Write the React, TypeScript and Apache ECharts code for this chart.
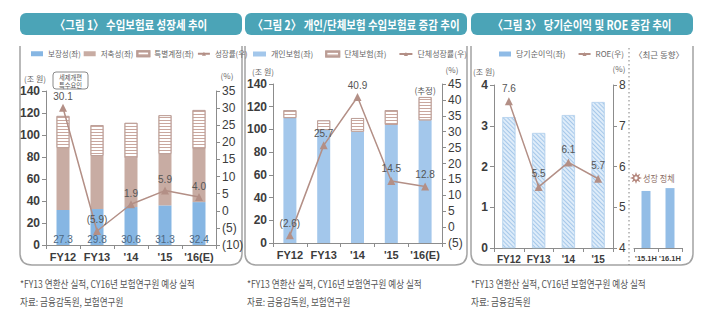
import React, { useEffect, useRef } from 'react';
import * as echarts from 'echarts';

// ---------- data ----------
const cats1 = ['FY12', 'FY13', "'14", "'15", "'16(E)"];
const prot1 = [31.8, 32.7, 34.5, 36.0, 39.0];
const prot1Labels = [27.3, 29.8, 30.6, 31.3, 32.4];
const sav1 = [56.4, 48.3, 44.5, 46.7, 48.3];
const spec1 = [29.1, 28.0, 32.0, 35.3, 35.4];
const growth1 = [30.1, -5.9, 1.9, 5.9, 4.0];

const cats2 = ['FY12', 'FY13', "'14", "'15", "'16(E)"];
const indiv2 = [110, 99.5, 98, 104, 108];
const group2 = [7, 8.5, 12, 13, 20.5];
const groupGrowth2 = [-2.6, 25.7, 40.9, 14.5, 12.8];

const cats3 = ['FY12', 'FY13', "'14", "'15"];
const netIncome3 = [3.21, 2.82, 3.26, 3.58];
const roe3 = [7.6, 5.5, 6.1, 5.7];
const recentCats = ["'15.1H", "'16.1H"];
const recentIncome = [1.4, 1.47];

const titles = [
  '〈그림 1〉 수입보험료 성장세 추이',
  '〈그림 2〉 개인/단체보험 수입보험료 증감 추이',
  '〈그림 3〉 당기순이익 및 ROE 증감 추이',
];
const footnote1 = '*FY13 연환산 실적, CY16년 보험연구원 예상 실적';
const sources = ['자료: 금융감독원, 보험연구원', '자료: 금융감독원, 보험연구원', '자료: 금융감독원'];

// ---------- styles ----------
const narrow = '"Liberation Sans Narrow", "Arial Narrow", "Liberation Sans", Arial, sans-serif';
const kr = '"Noto Sans CJK KR", "Noto Sans", sans-serif';
const axisColor = '#8c8c8c';
const labelColor = '#3c3c3c';
const lineColor = '#b38f86';
const teal = '#4ba4b7';

echarts.graphic.registerShape(
  'panelBorder',
  echarts.graphic.extendPath('M0 0 L0 207 Q0 219 12 219 L210 219 Q222 219 222 207 L222 0', {}) as any
);

const paren = (v: number) => (v < 0 ? `(${Math.abs(v)})` : `${v}`);
const paren1 = (v: number) => (v < 0 ? `(${Math.abs(v).toFixed(1)})` : v.toFixed(1));

const stripeDecal = {
  symbol: 'rect',
  symbolSize: 1,
  dashArrayX: [[1, 0]],
  dashArrayY: [1, 2],
  color: '#c9a79e',
};
const hatchDecal = {
  symbol: 'rect',
  symbolSize: 1,
  dashArrayX: [[1, 0]],
  dashArrayY: [1, 2],
  rotation: Math.PI / 4,
  color: '#a6c8ea',
};

const xAxisBase = (gridIndex: number, data: string[], fontSize = 11) => ({
  type: 'category',
  gridIndex,
  data,
  axisLine: { show: true, lineStyle: { color: axisColor } },
  axisTick: { show: true, length: 4, lineStyle: { color: axisColor } },
  axisLabel: { color: labelColor, fontWeight: 'bold', fontSize, margin: 6, interval: 0, fontFamily: narrow },
  splitLine: { show: false },
});

const yAxisBase = (
  gridIndex: number,
  position: 'left' | 'right',
  min: number,
  max: number,
  interval: number,
  bold: boolean,
  formatter?: (v: number) => string
) => ({
  type: 'value',
  gridIndex,
  position,
  min,
  max,
  interval,
  axisLine: { show: true, lineStyle: { color: axisColor } },
  axisTick: { show: true, length: 4, lineStyle: { color: axisColor } },
  splitLine: { show: false },
  axisLabel: {
    color: labelColor,
    fontSize: 12,
    fontWeight: bold ? 'bold' : 'normal',
    margin: 6,
    fontFamily: narrow,
    formatter: formatter || ((v: number) => `${v}`),
  },
});

const lineLabel = (distance: number) => ({
  show: true,
  position: 'top',
  distance,
  color: '#555',
  fontSize: 10,
  fontFamily: narrow,
  formatter: (p: any) => paren1(p.value),
});

function buildStar(cx: number, cy: number, ro: number, ri: number, n: number) {
  const pts: number[][] = [];
  for (let i = 0; i < n * 2; i++) {
    const r = i % 2 === 0 ? ro : ri;
    const a = (Math.PI * i) / n - Math.PI / 2;
    pts.push([cx + r * Math.cos(a), cy + r * Math.sin(a)]);
  }
  return pts;
}

const panelX = [20, 245, 471];
const footX = [20, 247, 471];

export default function App() {
  const ref = useRef<HTMLDivElement>(null);

  useEffect(() => {
    if (!ref.current) return;
    const chart = echarts.init(ref.current, null, { renderer: 'svg' });

    const graphic: any[] = [];
    panelX.forEach((x) => {
      graphic.push({
        type: 'panelBorder',
        x,
        y: 46,
        silent: true,
        style: { stroke: '#a3a3a3', fill: 'none', lineWidth: 1.5 },
      });
    });
    titles.forEach((t, i) => {
      const x = panelX[i];
      graphic.push({
        type: 'rect',
        shape: { x, y: 13, width: 222, height: 22, r: 6 },
        style: { fill: teal },
      });
      graphic.push({
        type: 'text',
        x: x + 111,
        y: 24.5,
        scaleX: 0.84,
        style: {
          text: t,
          fill: '#ffffff',
          fontSize: 12.5,
          fontWeight: 'bold',
          fontFamily: kr,
          align: 'center',
          verticalAlign: 'middle',
        },
      });
      graphic.push({
        type: 'text',
        x: footX[i],
        y: 284,
        scaleX: 0.86,
        style: { text: footnote1, fill: '#555', fontSize: 10, fontFamily: kr, align: 'left', verticalAlign: 'middle' },
      });
      graphic.push({
        type: 'text',
        x: footX[i],
        y: 302,
        scaleX: 0.86,
        style: { text: sources[i], fill: '#555', fontSize: 10, fontFamily: kr, align: 'left', verticalAlign: 'middle' },
      });
    });
    // unit labels
    const units = [
      { t: '(조 원)', x: 35, y: 78.5 },
      { t: '(%)', x: 227, y: 75 },
      { t: '(조 원)', x: 263, y: 71 },
      { t: '(%)', x: 452, y: 69 },
      { t: '(조 원)', x: 484, y: 71 },
      { t: '(%)', x: 619, y: 68 },
    ];
    units.forEach((u) =>
      graphic.push({
        type: 'text',
        x: u.x,
        y: u.y,
        style: { text: u.t, fill: '#666', fontSize: 8, fontFamily: kr, align: 'center', verticalAlign: 'middle' },
      })
    );
    // callout
    graphic.push({
      type: 'rect',
      shape: { x: 53, y: 72, width: 35, height: 17, r: 3 },
      style: { fill: '#fff', stroke: '#8a8a8a', lineWidth: 1 },
    });
    graphic.push({
      type: 'text',
      x: 70.5,
      y: 80.5,
      scaleX: 0.9,
      style: {
        text: '세제개편\n특수요인',
        fill: '#555',
        fontSize: 7,
        lineHeight: 8,
        fontFamily: kr,
        align: 'center',
        verticalAlign: 'middle',
      },
    });
    // panel 3 extras
    graphic.push({
      type: 'line',
      shape: { x1: 629, y1: 48, x2: 629, y2: 265 },
      style: { stroke: '#808080', lineWidth: 1, lineDash: [1.5, 2.5] },
    });
    graphic.push({
      type: 'text',
      x: 659,
      y: 54,
      style: { text: '〈최근 동향〉', fill: '#666', fontSize: 8.5, fontFamily: kr, align: 'center', verticalAlign: 'middle' },
    });
    graphic.push({
      type: 'polygon',
      shape: { points: buildStar(636, 178, 6, 3, 8) },
      style: { fill: '#b5877d' },
    });
    graphic.push({
      type: 'circle',
      shape: { cx: 636, cy: 178, r: 1.6 },
      style: { fill: '#fff' },
    });
    graphic.push({
      type: 'text',
      x: 643,
      y: 178,
      scaleX: 0.9,
      style: { text: '성장 정체', fill: '#8d6e66', fontSize: 9, fontFamily: kr, align: 'left', verticalAlign: 'middle' },
    });

    const legendText = (size: number) => ({ fontSize: size, color: '#666', fontFamily: kr });

    const option: any = {
      animation: false,
      backgroundColor: '#ffffff',
      textStyle: { fontFamily: narrow },
      grid: [
        { left: 46, top: 91, width: 170, height: 154 },
        { left: 273, top: 84, width: 169, height: 159 },
        { left: 494, top: 85, width: 119, height: 163 },
        { left: 634, top: 85, width: 48, height: 163 },
      ],
      legend: [
        {
          left: 31,
          top: 50,
          padding: 0,
          itemWidth: 12,
          itemHeight: 5,
          itemGap: 3,
          selectedMode: false,
          textStyle: legendText(7.5),
          data: [
            { name: '보장성(좌)', icon: 'rect' },
            { name: '저축성(좌)', icon: 'rect' },
            { name: '특별계정(좌)', icon: 'rect' },
            { name: '성장률(우)' },
          ],
        },
        {
          left: 253,
          top: 50,
          padding: 0,
          itemWidth: 13,
          itemHeight: 5,
          itemGap: 12,
          selectedMode: false,
          textStyle: legendText(8),
          data: [
            { name: '개인보험(좌)', icon: 'rect' },
            { name: '단체보험(좌)', icon: 'rect' },
            { name: '단체성장률(우)' },
          ],
        },
        {
          left: 499,
          top: 50,
          padding: 0,
          itemWidth: 12,
          itemHeight: 5,
          itemGap: 12,
          selectedMode: false,
          textStyle: legendText(8),
          data: [
            { name: '당기순이익(좌)', icon: 'rect', itemStyle: { color: '#8fbbe6', decal: 'none', borderWidth: 0 } },
            { name: 'ROE(우)' },
          ],
        },
      ],
      xAxis: [
        xAxisBase(0, cats1),
        xAxisBase(1, cats2),
        xAxisBase(2, cats3, 10),
        xAxisBase(3, recentCats, 7.5),
      ],
      yAxis: [
        yAxisBase(0, 'left', 0, 140, 20, true),
        yAxisBase(0, 'right', -10, 35, 5, false, paren),
        yAxisBase(1, 'left', 0, 140, 20, true),
        yAxisBase(1, 'right', -5, 45, 5, false, paren),
        yAxisBase(2, 'left', 0, 4, 1, true),
        yAxisBase(2, 'right', 4, 8, 1, false),
        { type: 'value', gridIndex: 3, min: 0, max: 4, show: false },
      ],
      series: [
        {
          name: '보장성(좌)',
          type: 'bar',
          xAxisIndex: 0,
          yAxisIndex: 0,
          stack: 's1',
          barWidth: 13,
          data: prot1,
          itemStyle: { color: '#86b6e3' },
          label: {
            show: true,
            position: 'insideBottom',
            distance: 1,
            color: '#4d6781',
            fontSize: 10,
            fontFamily: narrow,
            formatter: (p: any) => prot1Labels[p.dataIndex].toFixed(1),
          },
        },
        {
          name: '저축성(좌)',
          type: 'bar',
          xAxisIndex: 0,
          yAxisIndex: 0,
          stack: 's1',
          barWidth: 13,
          data: sav1,
          itemStyle: { color: '#c8aca3' },
        },
        {
          name: '특별계정(좌)',
          type: 'bar',
          xAxisIndex: 0,
          yAxisIndex: 0,
          stack: 's1',
          barWidth: 13,
          data: spec1,
          itemStyle: { color: '#ffffff', borderColor: '#bb9d95', borderWidth: 0.8, decal: stripeDecal },
        },
        {
          name: '성장률(우)',
          type: 'line',
          xAxisIndex: 0,
          yAxisIndex: 1,
          data: growth1,
          symbol: 'triangle',
          symbolSize: 8,
          z: 5,
          lineStyle: { color: lineColor, width: 1.5 },
          itemStyle: { color: lineColor },
          label: lineLabel(2),
        },
        {
          name: '개인보험(좌)',
          type: 'bar',
          xAxisIndex: 1,
          yAxisIndex: 2,
          stack: 's2',
          barWidth: 13,
          data: indiv2,
          itemStyle: { color: '#a3c7eb' },
        },
        {
          name: '단체보험(좌)',
          type: 'bar',
          xAxisIndex: 1,
          yAxisIndex: 2,
          stack: 's2',
          barWidth: 13,
          data: group2.map((v, i) =>
            i === group2.length - 1
              ? {
                  value: v,
                  label: {
                    show: true,
                    position: 'top',
                    distance: 3,
                    formatter: '(추정)',
                    color: '#555',
                    fontSize: 8.5,
                    fontFamily: kr,
                  },
                }
              : v
          ),
          itemStyle: { color: '#ffffff', borderColor: '#bb9d95', borderWidth: 0.8, decal: stripeDecal },
        },
        {
          name: '단체성장률(우)',
          type: 'line',
          xAxisIndex: 1,
          yAxisIndex: 3,
          data: groupGrowth2,
          symbol: 'triangle',
          symbolSize: 8,
          z: 5,
          lineStyle: { color: lineColor, width: 1.5 },
          itemStyle: { color: lineColor },
          label: lineLabel(3),
        },
        {
          name: '당기순이익(좌)',
          type: 'bar',
          xAxisIndex: 2,
          yAxisIndex: 4,
          barWidth: 13,
          data: netIncome3,
          itemStyle: { color: '#deecf9', borderColor: '#b7d3ef', borderWidth: 0.6, decal: hatchDecal },
        },
        {
          name: 'ROE(우)',
          type: 'line',
          xAxisIndex: 2,
          yAxisIndex: 5,
          data: roe3,
          symbol: 'triangle',
          symbolSize: 8,
          z: 5,
          lineStyle: { color: lineColor, width: 1.5 },
          itemStyle: { color: lineColor },
          label: lineLabel(4),
        },
        {
          name: '당기순이익(최근)',
          type: 'bar',
          xAxisIndex: 3,
          yAxisIndex: 6,
          barWidth: 9,
          data: recentIncome,
          itemStyle: { color: '#93bde6' },
        },
      ],
      graphic,
    };

    chart.setOption(option);
    return () => chart.dispose();
  }, []);

  return (
    <div
      ref={ref}
      style={{ position: 'fixed', left: 0, top: 0, width: 713, height: 323, background: '#fff' }}
    />
  );
}
